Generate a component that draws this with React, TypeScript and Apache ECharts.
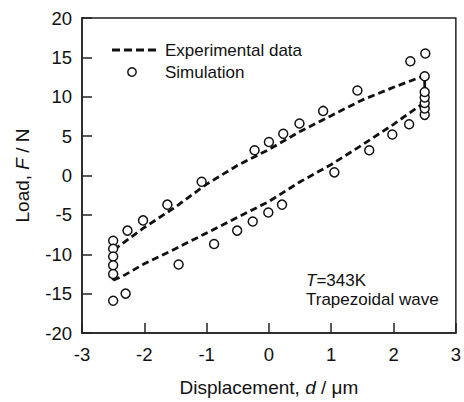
import React, { useEffect, useRef } from "react";
import * as echarts from "echarts";

const xTicks = [-3, -2, -1, 0, 1, 2, 3];
const yTicks = [-20, -15, -10, -5, 0, 5, 10, 15, 20];

// Experimental loop: lower branch (loading) then upper branch (unloading)
const expLowerX = [-2.5, -2.35, -2.0, -1.5, -1.0, -0.5, 0, 0.5, 1.0, 1.5, 2.0, 2.5];
const expLowerY = [-13.3, -12.8, -11.2, -9.3, -7.3, -5.3, -3.3, -0.8, 1.4, 3.9, 6.5, 9.3];
const expUpperX = [2.5, 2.0, 1.5, 1.0, 0.5, 0, -0.5, -1.0, -1.5, -2.0, -2.5];
const expUpperY = [12.7, 11.2, 9.6, 7.6, 5.6, 3.3, 1.3, -1.1, -4.0, -6.6, -9.5];

const simX = [
  -2.5, -2.5, -2.5, -2.5, -2.5, -2.5, -2.3, -1.45, -0.88, -0.51, -0.26, -0.01, 0.21,
  1.05, 1.61, 1.98, 2.25, 2.5, 2.5, 2.5, 2.5, 2.5, 2.5, 2.51, 2.27, 1.42, 0.87, 0.49,
  0.23, 0.0, -0.23, -1.08, -1.63, -2.02, -2.27,
];
const simY = [
  -8.3, -9.3, -10.3, -11.4, -12.5, -15.9, -15.0, -11.3, -8.7, -7.0, -5.85, -4.7, -3.7,
  0.4, 3.2, 5.2, 6.5, 7.7, 8.5, 9.2, 9.9, 10.6, 12.6, 15.5, 14.5, 10.8, 8.2, 6.6,
  5.3, 4.25, 3.2, -0.8, -3.7, -5.7, -7.0,
];

const legendNames = ["Experimental data", "Simulation"];

const FONT = "'Liberation Sans', Arial, sans-serif";
const INK = "#111";

export default function App() {
  const ref = useRef<HTMLDivElement>(null);
  useEffect(() => {
    if (!ref.current) return;
    const chart = echarts.init(ref.current, null, { renderer: "svg" });
    const expData: number[][] = [];
    expLowerX.forEach((x, i) => expData.push([x, expLowerY[i]]));
    expUpperX.forEach((x, i) => expData.push([x, expUpperY[i]]));
    expData.push([expLowerX[0], expLowerY[0]]);
    const simData = simX.map((x, i) => [x, simY[i]]);

    const axisCommon = {
      type: "value",
      splitLine: { show: false },
      axisLine: { onZero: false, lineStyle: { color: "#222", width: 1.5 } },
      axisTick: { inside: true, length: 10, lineStyle: { color: "#222", width: 1.5 } },
    };
    const nameStyle = {
      fontSize: 19,
      color: INK,
      fontFamily: FONT,
      rich: { i: { fontStyle: "italic", fontSize: 19, color: INK, fontFamily: FONT } },
    };

    chart.setOption({
      animation: false,
      backgroundColor: "#fff",
      textStyle: { fontFamily: FONT },
      grid: {
        left: 82,
        right: 5,
        top: 18,
        bottom: 68,
        show: true,
        borderColor: "#222",
        borderWidth: 1.5,
      },
      xAxis: {
        ...axisCommon,
        min: xTicks[0],
        max: xTicks[xTicks.length - 1],
        interval: 1,
        axisLabel: { fontSize: 18.5, color: INK, margin: 12, fontFamily: FONT },
        name: "Displacement, {i|d} / μm",
        nameLocation: "middle",
        nameGap: 45,
        nameTextStyle: nameStyle,
      },
      yAxis: {
        ...axisCommon,
        min: yTicks[0],
        max: yTicks[yTicks.length - 1],
        interval: 5,
        axisLabel: { fontSize: 18.5, color: INK, margin: 10, fontFamily: FONT },
        name: "Load, {i|F} / N",
        nameLocation: "middle",
        nameGap: 50,
        nameTextStyle: nameStyle,
      },
      graphic: [
        {
          type: "line",
          shape: { x1: 112, y1: 50, x2: 158, y2: 50 },
          style: { stroke: INK, lineWidth: 2.8, lineDash: [8, 4] },
        },
        {
          type: "circle",
          shape: { cx: 132, cy: 72, r: 4.2 },
          style: { fill: "#fff", stroke: INK, lineWidth: 1.5 },
        },
        {
          type: "text",
          x: 165,
          y: 50,
          style: {
            text: legendNames[0],
            fontSize: 17,
            fontFamily: FONT,
            fill: INK,
            verticalAlign: "middle",
          },
        },
        {
          type: "text",
          x: 165,
          y: 72,
          style: {
            text: legendNames[1],
            fontSize: 17,
            fontFamily: FONT,
            fill: INK,
            verticalAlign: "middle",
          },
        },
        {
          type: "text",
          x: 306,
          y: 271,
          style: {
            text: "{i|T}=343K\nTrapezoidal wave",
            fontSize: 17,
            fontFamily: FONT,
            fill: INK,
            lineHeight: 19,
            rich: { i: { fontStyle: "italic", fontSize: 17, fontFamily: FONT, fill: INK, lineHeight: 19 } },
          },
        },
      ],
      series: [
        {
          name: legendNames[0],
          type: "line",
          data: expData,
          symbol: "none",
          lineStyle: { color: INK, width: 2.8, type: [7, 4] },
          itemStyle: { color: INK },
          z: 2,
        },
        {
          name: legendNames[1],
          type: "scatter",
          data: simData,
          symbol: "circle",
          symbolSize: 9,
          itemStyle: { color: "#fff", borderColor: INK, borderWidth: 1.5, opacity: 1 },
          z: 3,
        },
      ],
    });
    return () => chart.dispose();
  }, []);
  return (
    <div
      ref={ref}
      style={{ position: "fixed", left: 0, top: 0, width: 464, height: 402 }}
    />
  );
}
